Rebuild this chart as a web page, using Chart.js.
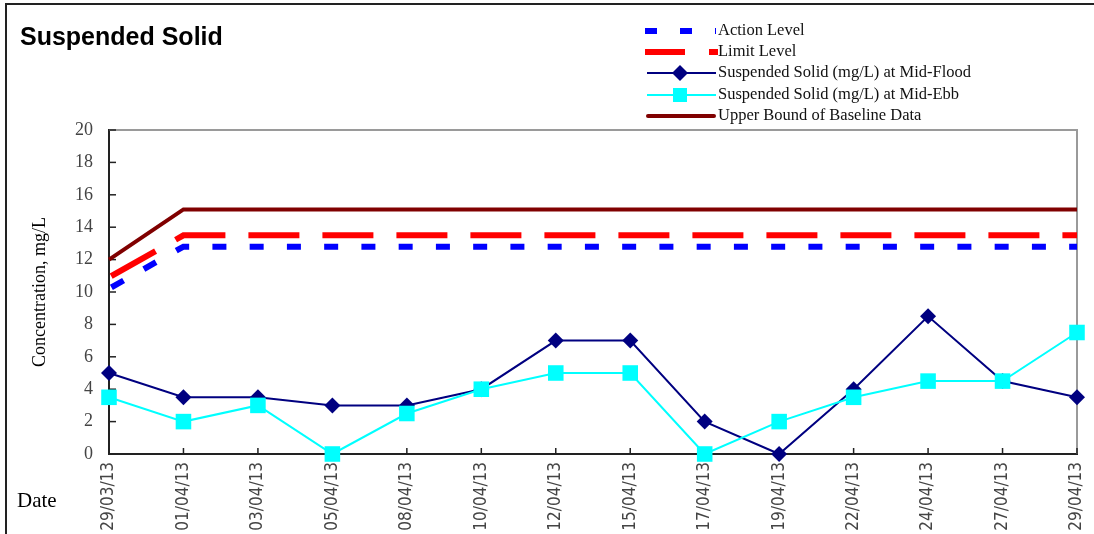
<!DOCTYPE html>
<html>
<head>
<meta charset="utf-8">
<script src="https://cdn.jsdelivr.net/npm/chart.js"></script>
<style>
html,body{margin:0;padding:0;background:#fff;}
#wrap{width:1094px;height:534px;position:relative;}
</style>
</head>
<body>
<div id="wrap"><canvas id="c" width="1094" height="534"></canvas></div>
<script>
const dates = ['29/03/13','01/04/13','03/04/13','05/04/13','08/04/13','10/04/13','12/04/13','15/04/13','17/04/13','19/04/13','22/04/13','24/04/13','27/04/13','29/04/13'];
const actionLevel = [10.2,12.8,12.8,12.8,12.8,12.8,12.8,12.8,12.8,12.8,12.8,12.8,12.8,12.8];
const limitLevel  = [10.9,13.5,13.5,13.5,13.5,13.5,13.5,13.5,13.5,13.5,13.5,13.5,13.5,13.5];
const midFlood    = [5,3.5,3.5,3,3,4,7,7,2,0,4,8.5,4.5,3.5];
const midEbb      = [3.5,2,3,0,2.5,4,5,5,0,2,3.5,4.5,4.5,7.5];
const upperBound  = [12,15.1,15.1,15.1,15.1,15.1,15.1,15.1,15.1,15.1,15.1,15.1,15.1,15.1];
const yTicks = [0,2,4,6,8,10,12,14,16,18,20];

const chartTitle = 'Suspended Solid';
const yTitle = 'Concentration, mg/L';
const xTitle = 'Date';
const legendItems = [
  {text:'Action Level', kind:'dashBlue'},
  {text:'Limit Level', kind:'dashRed'},
  {text:'Suspended Solid (mg/L) at Mid-Flood', kind:'flood'},
  {text:'Suspended Solid (mg/L) at Mid-Ebb', kind:'ebb'},
  {text:'Upper Bound of Baseline Data', kind:'upper'}
];

const SERIF = '"Liberation Serif","Times New Roman",serif';
const NARROW = '"Liberation Sans Narrow","Arial Narrow","DejaVu Sans Condensed",sans-serif';

const decor = {
  id:'decor',
  beforeDatasetsDraw(chart){
    const {ctx, chartArea:a} = chart;
    ctx.save();
    ctx.strokeStyle = '#9a9a9a';
    ctx.lineWidth = 2;
    ctx.beginPath();
    ctx.moveTo(a.left, a.top); ctx.lineTo(a.right, a.top); ctx.lineTo(a.right, a.bottom);
    ctx.stroke();
    // inside tick marks
    ctx.strokeStyle = '#222';
    ctx.lineWidth = 1.5;
    const ys = chart.scales.y, xs = chart.scales.x;
    ys.ticks.forEach((t,i)=>{
      const y = ys.getPixelForTick(i);
      ctx.beginPath(); ctx.moveTo(a.left, y); ctx.lineTo(a.left+7, y); ctx.stroke();
    });
    xs.ticks.forEach((t,i)=>{
      const x = xs.getPixelForTick(i);
      ctx.beginPath(); ctx.moveTo(x, a.bottom); ctx.lineTo(x, a.bottom-6); ctx.stroke();
    });
    ctx.restore();
  },
  afterDraw(chart){
    const {ctx} = chart;
    ctx.save();
    // outer frame (left and top)
    ctx.strokeStyle = '#222';
    ctx.lineWidth = 2;
    ctx.beginPath();
    ctx.moveTo(6, 534); ctx.lineTo(6, 4); ctx.lineTo(1094, 4);
    ctx.stroke();
    // title
    ctx.fillStyle = '#000';
    ctx.font = 'bold 25px "Liberation Sans", Arial, sans-serif';
    ctx.textBaseline = 'alphabetic';
    ctx.textAlign = 'left';
    ctx.fillText(chartTitle, 20, 45);
    // Date label
    ctx.font = '21px ' + SERIF;
    ctx.fillText(xTitle, 17, 507);
    // legend
    const ds = chart.data.datasets;
    const rows = [31, 52, 73, 95, 116];
    const x0 = 645, x1 = 716, xm = 680, tx = 718;
    ctx.font = '16.5px ' + SERIF;
    legendItems.forEach((it, i) => {
      const y = rows[i];
      ctx.save();
      ctx.lineCap = 'butt';
      if (it.kind === 'dashBlue') {
        ctx.strokeStyle = ds[0].borderColor; ctx.lineWidth = 6; ctx.setLineDash([12,23]);
        ctx.beginPath(); ctx.moveTo(x0, y); ctx.lineTo(x1, y); ctx.stroke();
      } else if (it.kind === 'dashRed') {
        ctx.strokeStyle = ds[1].borderColor; ctx.lineWidth = 6; ctx.setLineDash([40,24]);
        ctx.beginPath(); ctx.moveTo(x0, y); ctx.lineTo(x1+2, y); ctx.stroke();
      } else if (it.kind === 'flood') {
        ctx.strokeStyle = ds[2].borderColor; ctx.lineWidth = 2;
        ctx.beginPath(); ctx.moveTo(x0+2, y); ctx.lineTo(x1, y); ctx.stroke();
        ctx.fillStyle = ds[2].pointBackgroundColor;
        ctx.beginPath(); ctx.moveTo(xm, y-8); ctx.lineTo(xm+8, y); ctx.lineTo(xm, y+8); ctx.lineTo(xm-8, y); ctx.closePath(); ctx.fill();
      } else if (it.kind === 'ebb') {
        ctx.strokeStyle = ds[3].borderColor; ctx.lineWidth = 2;
        ctx.beginPath(); ctx.moveTo(x0+2, y); ctx.lineTo(x1, y); ctx.stroke();
        ctx.fillStyle = ds[3].pointBackgroundColor;
        ctx.fillRect(xm-7, y-7, 14, 14);
      } else {
        ctx.strokeStyle = ds[4].borderColor; ctx.lineWidth = 4; ctx.lineCap = 'round';
        ctx.beginPath(); ctx.moveTo(x0+3, y); ctx.lineTo(x1-2, y); ctx.stroke();
      }
      ctx.restore();
      ctx.fillStyle = '#111';
      ctx.textBaseline = 'middle';
      ctx.textAlign = 'left';
      ctx.fillText(it.text, tx, y);
    });
    ctx.restore();
  }
};

new Chart(document.getElementById('c'), {
  type: 'line',
  data: {
    labels: dates,
    datasets: [
      {label:'Action Level', data: actionLevel, borderColor:'#0000ff', borderWidth:6, borderDash:[14,23.25], borderDashOffset:34.5, pointRadius:0, tension:0, order:5, clip:false, borderCapStyle:'butt'},
      {label:'Limit Level', data: limitLevel, borderColor:'#ff0000', borderWidth:6, borderDash:[51,23], borderDashOffset:71.5, pointRadius:0, tension:0, order:4, clip:false, borderCapStyle:'butt'},
      {label:'Suspended Solid (mg/L) at Mid-Flood', data: midFlood, borderColor:'#000080', backgroundColor:'#000080', pointBackgroundColor:'#000080', pointBorderColor:'#000080', borderWidth:2, pointStyle:'rectRot', pointRadius:8, pointBorderWidth:0, tension:0, order:2, clip:false},
      {label:'Suspended Solid (mg/L) at Mid-Ebb', data: midEbb, borderColor:'#00ffff', backgroundColor:'#00ffff', pointBackgroundColor:'#00ffff', pointBorderColor:'#00ffff', borderWidth:2, pointStyle:'rect', pointRadius:11, pointBorderWidth:0, tension:0, order:1, clip:false},
      {label:'Upper Bound of Baseline Data', data: upperBound, borderColor:'#800000', borderWidth:4, pointRadius:0, tension:0, order:3, clip:false}
    ]
  },
  options: {
    responsive: false,
    animation: false,
    devicePixelRatio: 1,
    layout: { padding: { top: 130, right: 17, bottom: 0, left: 0 } },
    plugins: { legend: { display: false }, tooltip: { enabled: false }, title: { display: false } },
    scales: {
      x: {
        type: 'category',
        offset: false,
        grid: { display: true, drawOnChartArea: false, drawTicks: false },
        border: { display: true, color: '#222', width: 2 },
        ticks: {
          autoSkip: false, minRotation: 90, maxRotation: 90, padding: 8,
          color: '#444', font: { family: NARROW, size: 17 }
        },
        afterFit(scale){ scale.height = 80; scale.paddingLeft = 0; scale.paddingRight = 0; }
      },
      y: {
        min: 0, max: 20,
        afterBuildTicks(scale){ scale.ticks = yTicks.map(v => ({value: v})); },
        grid: { display: true, drawOnChartArea: false, drawTicks: false },
        border: { display: true, color: '#222', width: 2 },
        ticks: { padding: 16, color: '#444', font: { family: SERIF, size: 18 } },
        title: { display: true, text: yTitle, color: '#000', font: { family: SERIF, size: 18 }, padding: { top: 29, bottom: 0 } },
        afterFit(scale){ scale.width = 109; }
      }
    }
  },
  plugins: [decor]
});
</script>
</body>
</html>
